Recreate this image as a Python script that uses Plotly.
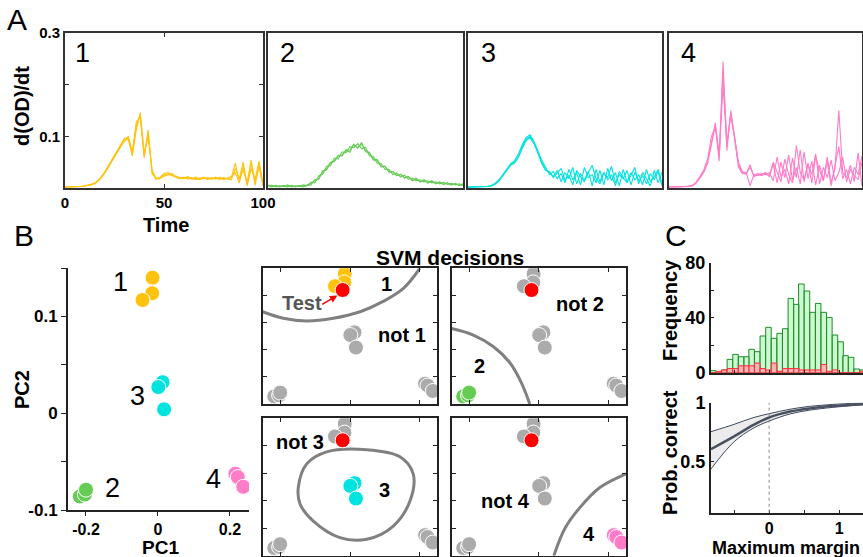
import plotly.graph_objects as go

W, H = 863, 557
FONT = "Arial, 'Liberation Sans', sans-serif"

# ---------------- Panel A data: d(OD)/dt time series (3 replicates each) ----------------
time = list(range(0, 101, 2))

p1_a = [0.002,0.002,0.002,0.002,0.003,0.004,0.005,0.007,0.011,0.019,
        0.029,0.042,0.055,0.069,0.082,0.094,0.100,0.070,0.120,0.142,
        0.062,0.108,0.030,0.017,0.018,0.025,0.027,0.024,0.020,0.018,
        0.021,0.017,0.020,0.016,0.019,0.021,0.016,0.020,0.017,0.021,
        0.016,0.019,0.022,0.030,0.010,0.042,0.006,0.050,0.012,0.040,
        0.004]
p1_b = [0.002,0.002,0.003,0.003,0.003,0.004,0.006,0.008,0.012,0.020,
        0.031,0.044,0.057,0.071,0.085,0.096,0.094,0.062,0.112,0.146,
        0.068,0.098,0.034,0.019,0.020,0.028,0.030,0.026,0.021,0.019,
        0.018,0.020,0.017,0.019,0.016,0.020,0.018,0.017,0.020,0.018,
        0.019,0.017,0.020,0.048,0.014,0.035,0.010,0.054,0.005,0.046,
        0.008]
p1_c = [0.002,0.002,0.002,0.003,0.003,0.004,0.005,0.007,0.011,0.018,
        0.028,0.041,0.054,0.067,0.079,0.090,0.097,0.066,0.128,0.138,
        0.058,0.112,0.028,0.018,0.019,0.023,0.025,0.028,0.023,0.020,
        0.019,0.022,0.018,0.021,0.017,0.018,0.020,0.018,0.021,0.016,
        0.020,0.018,0.016,0.038,0.018,0.050,0.004,0.038,0.016,0.052,
        0.006]

p2_a = [0.006,0.003,0.004,0.002,0.005,0.003,0.004,0.002,0.005,0.003,
        0.006,0.008,0.015,0.018,0.032,0.036,0.049,0.053,0.062,0.064,
        0.073,0.069,0.084,0.078,0.085,0.072,0.068,0.056,0.054,0.042,
        0.042,0.031,0.032,0.024,0.026,0.020,0.022,0.014,0.019,0.012,
        0.016,0.010,0.014,0.008,0.012,0.007,0.010,0.006,0.009,0.005,
        0.008]
p2_b = [0.004,0.005,0.002,0.004,0.003,0.006,0.002,0.004,0.003,0.006,
        0.004,0.011,0.010,0.024,0.026,0.042,0.043,0.058,0.056,0.070,
        0.068,0.080,0.078,0.086,0.076,0.079,0.062,0.061,0.048,0.047,
        0.036,0.036,0.026,0.029,0.021,0.025,0.017,0.019,0.014,0.016,
        0.012,0.014,0.010,0.012,0.008,0.011,0.007,0.009,0.006,0.008,
        0.005]
p2_c = [0.005,0.002,0.005,0.003,0.004,0.002,0.005,0.003,0.004,0.002,
        0.005,0.006,0.016,0.017,0.033,0.035,0.050,0.051,0.063,0.062,
        0.074,0.073,0.085,0.077,0.088,0.070,0.069,0.054,0.055,0.041,
        0.042,0.031,0.032,0.024,0.027,0.019,0.022,0.015,0.017,0.012,
        0.015,0.010,0.013,0.009,0.011,0.007,0.010,0.006,0.008,0.005,
        0.007]

p3_a = [0.002,0.002,0.002,0.002,0.002,0.003,0.004,0.008,0.015,0.025,
        0.036,0.045,0.050,0.062,0.080,0.095,0.100,0.088,0.070,0.050,
        0.036,0.030,0.022,0.034,0.012,0.030,0.018,0.040,0.008,0.028,
        0.015,0.032,0.004,0.036,0.012,0.030,0.020,0.042,0.010,0.026,
        0.018,0.034,0.006,0.030,0.014,0.024,0.008,0.028,0.016,0.032,
        0.004]
p3_b = [0.002,0.002,0.002,0.002,0.003,0.003,0.005,0.009,0.016,0.027,
        0.038,0.047,0.053,0.066,0.084,0.098,0.103,0.090,0.072,0.054,
        0.040,0.026,0.032,0.018,0.028,0.010,0.036,0.016,0.030,0.006,
        0.040,0.020,0.026,0.010,0.034,0.006,0.038,0.014,0.030,0.004,
        0.036,0.012,0.024,0.040,0.008,0.030,0.018,0.004,0.034,0.010,
        0.030]
p3_c = [0.002,0.002,0.002,0.002,0.002,0.003,0.004,0.007,0.014,0.024,
        0.034,0.044,0.048,0.059,0.077,0.092,0.097,0.086,0.068,0.047,
        0.034,0.032,0.020,0.028,0.038,0.016,0.024,0.006,0.034,0.022,
        0.012,0.030,0.044,0.018,0.008,0.030,0.016,0.026,0.004,0.032,
        0.022,0.010,0.030,0.016,0.026,0.006,0.036,0.012,0.022,0.036,
        0.008]

p4_a = [0.002,0.002,0.002,0.003,0.002,0.003,0.004,0.010,0.020,0.032,
        0.050,0.090,0.126,0.060,0.200,0.080,0.145,0.100,0.045,0.030,
        0.026,0.045,0.022,0.026,0.024,0.028,0.022,0.046,0.010,0.050,
        0.020,0.064,0.014,0.040,0.008,0.070,0.018,0.052,0.006,0.044,
        0.016,0.060,0.010,0.038,0.150,0.030,0.020,0.044,0.012,0.068,
        0.004]
p4_b = [0.002,0.002,0.003,0.002,0.003,0.003,0.005,0.011,0.022,0.035,
        0.056,0.100,0.118,0.052,0.245,0.072,0.150,0.092,0.040,0.028,
        0.030,0.004,0.026,0.024,0.028,0.026,0.030,0.014,0.060,0.022,
        0.036,0.008,0.058,0.020,0.074,0.012,0.046,0.026,0.066,0.008,
        0.040,0.020,0.054,0.014,0.030,0.060,0.012,0.036,0.024,0.016,
        0.050]
p4_c = [0.002,0.003,0.002,0.002,0.003,0.004,0.005,0.009,0.019,0.030,
        0.048,0.085,0.120,0.066,0.225,0.088,0.140,0.096,0.050,0.032,
        0.028,0.040,0.024,0.028,0.026,0.030,0.024,0.050,0.030,0.012,
        0.056,0.026,0.010,0.082,0.030,0.016,0.048,0.010,0.060,0.034,
        0.014,0.052,0.004,0.044,0.080,0.018,0.036,0.008,0.040,0.026,
        0.062]

# ---------------- Panel B data: PCA coordinates ----------------
pc1_yellow = [-0.015, -0.016, -0.043]
pc2_yellow = [0.140, 0.124, 0.117]
pc1_cyan = [0.013, 0.001, 0.017]
pc2_cyan = [0.032, 0.027, 0.004]
pc1_green = [-0.217, -0.203, -0.200]
pc2_green = [-0.086, -0.084, -0.079]
pc1_pink = [0.215, 0.222, 0.237]
pc2_pink = [-0.0625, -0.066, -0.076]
test_pc1 = [-0.021]
test_pc2 = [0.110]

# SVM decision boundaries (in PC1/PC2 units)
bnd1_x = [-0.25, -0.191, -0.124, -0.048, 0.029, 0.095, 0.153, 0.200]
bnd1_y = [0.070, 0.058, 0.053, 0.058, 0.070, 0.089, 0.113, 0.150]
bnd2_x = [-0.25, -0.188, -0.131, -0.083, -0.050, -0.026]
bnd2_y = [0.039, 0.027, 0.006, -0.024, -0.061, -0.100]
bnd3_x = [-0.148, -0.124, -0.067, 0.048, 0.143, 0.181, 0.172, 0.124, 0.048, -0.029, -0.105, -0.143, -0.148]
bnd3_y = [0.0245, 0.067, 0.089, 0.093, 0.080, 0.049, 0.000, -0.046, -0.070, -0.067, -0.037, -0.006, 0.0245]
bnd4_x = [0.043, 0.075, 0.117, 0.175, 0.250]
bnd4_y = [-0.100, -0.050, -0.013, 0.024, 0.049]

# ---------------- Panel C data ----------------
margin_bins = [-0.80, -0.72, -0.64, -0.56, -0.48, -0.40, -0.32, -0.25, -0.17, -0.09,
               -0.01, 0.07, 0.15, 0.23, 0.31, 0.39, 0.46, 0.54, 0.62, 0.70,
               0.78, 0.86, 0.94, 1.02, 1.09, 1.17, 1.25, 1.33]
freq_correct = [1.5, 0, 2, 9.7, 13.3, 11.6, 11.6, 17, 15.3, 26.7,
                33, 25, 28.6, 32, 54, 49.7, 64.5, 59.4, 43.9, 50.4,
                43.9, 40.2, 27.4, 22.5, 12.4, 11.2, 2.7, 2]
freq_wrong = [0, 1, 2, 3, 3, 5, 5, 5, 7, 3,
              2, 7, 1, 3, 3, 3, 2, 2, 2, 2,
              6, 1, 2, 0, 0, 0, 0, 1]

fit_x = [-0.83, -0.5, -0.23, 0.0, 0.3, 0.58, 0.9, 1.34]
fit_mid = [0.607, 0.715, 0.810, 0.875, 0.925, 0.952, 0.972, 0.990]
fit_hi = [0.755, 0.817, 0.873, 0.907, 0.945, 0.969, 0.985, 0.998]
fit_lo = [0.440, 0.670, 0.783, 0.845, 0.905, 0.937, 0.960, 0.982]

for s in [p1_a, p1_b, p1_c, p2_a, p2_b, p2_c, p3_a, p3_b, p3_c, p4_a, p4_b, p4_c]:
    assert len(s) == len(time), len(s)

# ---------------- colours ----------------
YEL = "#FFC20E"
GRN = "#66CC55"
CYA = "#00E3DF"
PNK = "#FF7CC8"
GRY = "#ABABAB"
RED = "#FF0000"


def xdom(a, b):
    return [a / W, b / W]


def ydom(top, bot):
    return [1 - bot / H, 1 - top / H]


def px(x):
    return x / W


def py(y):
    return 1 - y / H


fig = go.Figure()
layout = dict(template="none", width=W, height=H, margin=dict(l=0, r=0, t=0, b=0, pad=0),
              paper_bgcolor="white", plot_bgcolor="white", showlegend=False,
              font=dict(family=FONT, color="black"))

BOLD = dict(family=FONT, size=15, color="black", weight="bold")


def box_axis(domain, rng, anchor, **kw):
    d = dict(domain=domain, range=rng, anchor=anchor, showline=True, mirror=True,
             linecolor="#333333", linewidth=2, showgrid=False, zeroline=False,
             ticks="", showticklabels=False, fixedrange=True, automargin=False)
    d.update(kw)
    return d


# ---------------- Panel A ----------------
a_x = [(65, 263), (268, 463), (468, 662), (669, 862)]
a_series = [(p1_a, p1_b, p1_c, YEL), (p2_a, p2_b, p2_c, GRN),
            (p3_a, p3_b, p3_c, CYA), (p4_a, p4_b, p4_c, PNK)]
for i, ((x0, x1), (ra, rb, rc, col)) in enumerate(zip(a_x, a_series)):
    n = i + 1
    xs = "" if n == 1 else str(n)
    if n == 1:
        layout["xaxis"] = box_axis(xdom(x0, x1), [0, 100], "y", tickvals=[0, 50, 100],
                                   ticks="inside", ticklen=4, tickcolor="#333333",
                                   mirror="ticks", showticklabels=True, tickfont=BOLD)
        layout["yaxis"] = box_axis(ydom(33, 188), [0, 0.3], "x", tickvals=[0, 0.1, 0.2, 0.3],
                                   ticktext=["", "0.1", "", "0.3"], ticks="inside", ticklen=4,
                                   tickcolor="#333333", mirror="ticks", showticklabels=True,
                                   tickfont=BOLD)
    else:
        layout["xaxis" + xs] = box_axis(xdom(x0, x1), [0, 100], "y" + xs)
        layout["yaxis" + xs] = box_axis(ydom(33, 188), [0, 0.3], "x" + xs)
    for r in (ra, rb, rc):
        fig.add_trace(go.Scatter(x=time, y=r, mode="lines", line=dict(color=col, width=1.1),
                                 xaxis="x" + xs, yaxis="y" + xs, hoverinfo="skip"))

# ---------------- Panel B: PCA ----------------
layout["xaxis5"] = dict(domain=xdom(68, 249), range=[-0.25, 0.253], anchor="y5",
                        showline=True, linecolor="#222222", linewidth=2, showgrid=False,
                        zeroline=False, ticks="outside", ticklen=4, tickcolor="#222222",
                        tickvals=[-0.2, 0, 0.2], ticktext=["-0.2", "0", "0.2"],
                        tickfont=dict(BOLD, size=16), fixedrange=True, automargin=False)
layout["yaxis5"] = dict(domain=ydom(268, 510), range=[-0.1, 0.15], anchor="x5",
                        showline=True, linecolor="#222222", linewidth=2, showgrid=False,
                        zeroline=False, ticks="outside", ticklen=5, tickcolor="#222222",
                        tickvals=[-0.1, -0.05, 0, 0.05, 0.1, 0.15],
                        ticktext=["-0.1", "", "0", "", "0.1", ""],
                        tickfont=dict(BOLD, size=17), fixedrange=True, automargin=False)

MK = dict(size=15, line=dict(color="white", width=1))
for xs_, ys_, col in [(pc1_yellow, pc2_yellow, YEL), (pc1_cyan, pc2_cyan, CYA),
                      (pc1_green, pc2_green, GRN), (pc1_pink, pc2_pink, PNK)]:
    fig.add_trace(go.Scatter(x=xs_, y=ys_, mode="markers", marker=dict(MK, color=col),
                             xaxis="x5", yaxis="y5", hoverinfo="skip"))

annotations = []
for txt, xv, yv in [("1", -0.105, 0.136), ("3", -0.058, 0.018), ("2", -0.125, -0.077),
                    ("4", 0.153, -0.068)]:
    annotations.append(dict(text=txt, x=xv, y=yv, xref="x5", yref="y5", showarrow=False,
                            font=dict(family=FONT, size=27, color="black")))

# ---------------- Panel B: SVM decisions ----------------
svm_dom = [((262.7, 437.3), (268.3, 404.0)), ((451.7, 626.0), (268.3, 404.0)),
           ((262.7, 437.3), (418.3, 555.7)), ((451.7, 626.0), (418.3, 555.7))]
clusters = [(pc1_yellow, pc2_yellow, YEL), (pc1_green, pc2_green, GRN),
            (pc1_cyan, pc2_cyan, CYA), (pc1_pink, pc2_pink, PNK)]
bounds = [(bnd1_x, bnd1_y), (bnd2_x, bnd2_y), (bnd3_x, bnd3_y), (bnd4_x, bnd4_y)]
for k in range(4):
    n = 6 + k
    xa, ya = "x%d" % n, "y%d" % n
    (x0, x1), (y0, y1) = svm_dom[k]
    common = dict(showline=True, mirror="ticks", linecolor="#222222", linewidth=2,
                  showgrid=False, zeroline=False, ticks="inside", ticklen=4,
                  tickcolor="#222222", showticklabels=False, fixedrange=True,
                  automargin=False)
    layout["xaxis%d" % n] = dict(common, domain=xdom(x0, x1), range=[-0.25, 0.25], anchor=ya,
                                 tickvals=[-0.2, 0, 0.2])
    layout["yaxis%d" % n] = dict(common, domain=ydom(y0, y1), range=[-0.1, 0.15], anchor=xa,
                                 tickvals=[-0.05, 0, 0.05, 0.1])
    bx, by = bounds[k]
    fig.add_trace(go.Scatter(x=bx, y=by, mode="lines",
                             line=dict(color="#808080", width=3, shape="spline"),
                             xaxis=xa, yaxis=ya, hoverinfo="skip"))
    for j, (cx, cy, col) in enumerate(clusters):
        fig.add_trace(go.Scatter(x=cx, y=cy, mode="markers",
                                 marker=dict(MK, color=col if j == k else GRY),
                                 xaxis=xa, yaxis=ya, hoverinfo="skip"))
    fig.add_trace(go.Scatter(x=test_pc1, y=test_pc2, mode="markers",
                             marker=dict(MK, color=RED), xaxis=xa, yaxis=ya, hoverinfo="skip"))

LBL = dict(family=FONT, size=20, color="black", weight="bold")
svm_labels = [
    (6, "1", 0.105, 0.122), (6, "not 1", 0.150, 0.027),
    (7, "not 2", 0.117, 0.085), (7, "2", -0.171, -0.030),
    (8, "not 3", -0.143, 0.107), (8, "3", 0.100, 0.020),
    (9, "not 4", -0.097, 0.000), (9, "4", 0.143, -0.060),
]
for n, txt, xv, yv in svm_labels:
    annotations.append(dict(text=txt, x=xv, y=yv, xref="x%d" % n, yref="y%d" % n,
                            showarrow=False, font=LBL))
annotations.append(dict(text="Test", x=-0.138, y=0.087, xref="x6", yref="y6", showarrow=False,
                        font=dict(LBL, color="#555555")))
annotations.append(dict(text="", x=-0.036, y=0.100, xref="x6", yref="y6",
                        ax=-0.084, ay=0.082, axref="x6", ayref="y6", showarrow=True,
                        arrowhead=2, arrowsize=1, arrowwidth=1.5, arrowcolor=RED))

# ---------------- Panel C ----------------
layout["xaxis10"] = dict(domain=xdom(711, 863), range=[-0.83, 1.34], anchor="y10",
                         showline=True, linecolor="#222222", linewidth=2, showgrid=False,
                         zeroline=False, ticks="inside", ticklen=3, tickcolor="#222222",
                         tickvals=[-0.5, 0, 0.5, 1], showticklabels=False, fixedrange=True,
                         automargin=False)
layout["yaxis10"] = dict(domain=ydom(262.7, 372.7), range=[0, 80], anchor="x10",
                         showline=True, linecolor="#222222", linewidth=2, showgrid=False,
                         zeroline=False, ticks="inside", ticklen=3, tickcolor="#222222",
                         tickvals=[0, 20, 40, 60, 80], ticktext=["0", "", "40", "", "80"],
                         tickfont=dict(BOLD, size=18), fixedrange=True, automargin=False)
fig.add_trace(go.Bar(x=margin_bins, y=freq_correct, width=0.0788,
                     marker=dict(color="rgba(170,245,175,0.6)",
                                 line=dict(color="#1E8C2A", width=1)),
                     xaxis="x10", yaxis="y10", hoverinfo="skip"))
fig.add_trace(go.Bar(x=margin_bins, y=freq_wrong, width=0.0788,
                     marker=dict(color="rgba(255,165,175,0.8)",
                                 line=dict(color="#FF2A3A", width=1)),
                     xaxis="x10", yaxis="y10", hoverinfo="skip"))

layout["xaxis11"] = dict(domain=xdom(711, 863), range=[-0.83, 1.34], anchor="y11",
                         showline=True, linecolor="#222222", linewidth=2, showgrid=False,
                         zeroline=False, ticks="inside", ticklen=3, tickcolor="#222222",
                         tickvals=[-0.5, 0, 0.5, 1], ticktext=["", "0", "", "1"],
                         tickfont=dict(BOLD, size=16), fixedrange=True, automargin=False)
layout["yaxis11"] = dict(domain=ydom(402.7, 512.7), range=[0.07, 1.0], anchor="x11",
                         showline=True, linecolor="#222222", linewidth=2, showgrid=False,
                         zeroline=False, ticks="inside", ticklen=3, tickcolor="#222222",
                         tickvals=[0.5, 1], ticktext=["0.5", "1"],
                         tickfont=dict(BOLD, size=18), fixedrange=True, automargin=False)
fig.add_trace(go.Scatter(x=fit_x, y=fit_hi, mode="lines",
                         line=dict(color="#3E4A5C", width=1, shape="spline"),
                         xaxis="x11", yaxis="y11", hoverinfo="skip"))
fig.add_trace(go.Scatter(x=fit_x, y=fit_lo, mode="lines", fill="tonexty",
                         fillcolor="rgba(228,228,228,0.7)",
                         line=dict(color="#3E4A5C", width=1, shape="spline"),
                         xaxis="x11", yaxis="y11", hoverinfo="skip"))
fig.add_trace(go.Scatter(x=fit_x, y=fit_mid, mode="lines",
                         line=dict(color="#4A5262", width=2.5, shape="spline"),
                         xaxis="x11", yaxis="y11", hoverinfo="skip"))

shapes = [dict(type="line", xref="x11", yref="y11", x0=0, x1=0, y0=0.07, y1=1.0,
               line=dict(color="#888888", width=1, dash="dot"))]

# ---------------- text labels ----------------
TITLE = dict(family=FONT, size=20, color="black", weight="bold")
BIG = dict(family=FONT, size=30, color="black")
for txt, x, y, ang, f in [
    ("A", 17, 19, 0, BIG),
    ("B", 24, 235, 0, BIG),
    ("C", 676, 235, 0, BIG),
    ("d(OD)/dt", 22, 106, -90, TITLE),
    ("Time", 166, 225, 0, TITLE),
    ("PC2", 22, 390, -90, TITLE),
    ("PC1", 160, 547, 0, dict(TITLE, size=19)),
    ("SVM decisions", 450, 257, 0, dict(TITLE, size=21)),
    ("Frequency", 670, 310, -90, TITLE),
    ("Prob. correct", 670, 453, -90, TITLE),
    ("Maximum margin", 786, 548, 0, dict(TITLE, size=18)),
]:
    annotations.append(dict(text=txt, x=px(x), y=py(y), xref="paper", yref="paper",
                            showarrow=False, textangle=ang, font=f,
                            xanchor="center", yanchor="middle"))

for txt, x in [("1", 82), ("2", 287), ("3", 488), ("4", 688)]:
    annotations.append(dict(text=txt, x=px(x), y=py(53), xref="paper", yref="paper",
                            showarrow=False, font=dict(family=FONT, size=27, color="black"),
                            xanchor="center", yanchor="middle"))

layout["annotations"] = annotations
layout["shapes"] = shapes
layout["barmode"] = "overlay"
fig.update_layout(**layout)
fig.write_html("out.html", config={"displayModeBar": False},
               post_script="document.body.style.margin='0px';"
                           "document.body.style.overflow='hidden';")
